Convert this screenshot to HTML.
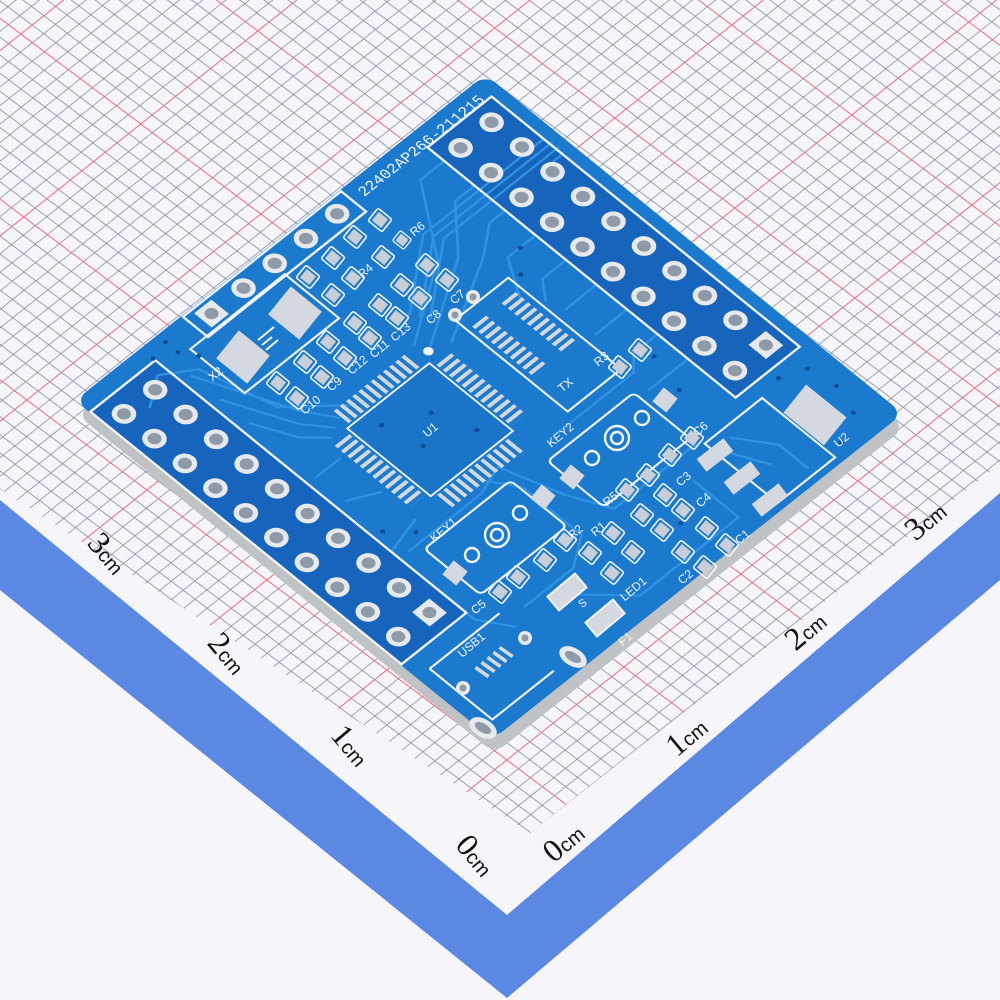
<!DOCTYPE html>
<html><head><meta charset="utf-8"><style>html,body{margin:0;padding:0;background:#f6f6fa}svg{display:block}</style></head>
<body>
<svg width="1000" height="1000" viewBox="0 0 1000 1000" xmlns="http://www.w3.org/2000/svg" font-family="Liberation Sans, sans-serif">
<defs>
<pattern id="grid" width="150" height="150" patternUnits="userSpaceOnUse" patternTransform="matrix(0.78,-0.62,0.8,0.6,494,28)">
<path d="M15 0V150M30 0V150M45 0V150M60 0V150M75 0V150M90 0V150M105 0V150M120 0V150M135 0V150M0 15H150M0 30H150M0 45H150M0 60H150M0 75H150M0 90H150M0 105H150M0 120H150M0 135H150" stroke="#80849a" stroke-width="0.8" fill="none"/>
<path d="M0 0V150M0 0H150" stroke="#f0647c" stroke-width="2" fill="none"/>
</pattern>
<pattern id="ph" width="1.5" height="10" patternUnits="userSpaceOnUse"><rect x="0" y="0" width="0.75" height="10" fill="#d4d8e0"/></pattern>
<pattern id="pv" width="10" height="1.5" patternUnits="userSpaceOnUse"><rect x="0" y="0" width="10" height="0.75" fill="#d4d8e0"/></pattern>
<g id="pin"><circle r="2.1" fill="#e6e9ee"/><circle r="1.2" fill="#8f9aa8"/></g>
<g id="sq"><rect x="-2.1" y="-2.1" width="4.2" height="4.2" fill="#e6e9ee"/><circle r="1.2" fill="#8f9aa8"/></g>
<g id="sp"><rect x="-9" y="-8" width="18" height="16" fill="none" stroke="#f2f6fb" stroke-width="1.6" rx="2"/><rect x="-6" y="-5.5" width="12" height="11" fill="#c9ced7"/></g>
</defs>

<rect width="1000" height="1000" fill="#f6f6fa"/>
<rect width="1000" height="1000" fill="url(#grid)"/>
<polygon points="0,489 530,833 1000,464 1000,1000 0,1000" fill="#f6f6fa"/>
<polygon points="0,500 507,915 1000,493 1000,580 507,998 0,590" fill="#5b88e2"/>

<g font-family="Liberation Serif, serif" fill="#111">
<text transform="translate(100,560) rotate(50)" text-anchor="middle" font-size="32">3<tspan font-size="20" font-family="Liberation Sans, sans-serif">cm</tspan></text>
<text transform="translate(220,660) rotate(50)" text-anchor="middle" font-size="32">2<tspan font-size="20" font-family="Liberation Sans, sans-serif">cm</tspan></text>
<text transform="translate(343,752) rotate(50)" text-anchor="middle" font-size="32">1<tspan font-size="20" font-family="Liberation Sans, sans-serif">cm</tspan></text>
<text transform="translate(468,862) rotate(50)" text-anchor="middle" font-size="32">0<tspan font-size="20" font-family="Liberation Sans, sans-serif">cm</tspan></text>
<text transform="translate(570,850) rotate(-40)" text-anchor="middle" font-size="32">0<tspan font-size="20" font-family="Liberation Sans, sans-serif">cm</tspan></text>
<text transform="translate(693,744) rotate(-40)" text-anchor="middle" font-size="32">1<tspan font-size="20" font-family="Liberation Sans, sans-serif">cm</tspan></text>
<text transform="translate(812,638) rotate(-40)" text-anchor="middle" font-size="32">2<tspan font-size="20" font-family="Liberation Sans, sans-serif">cm</tspan></text>
<text transform="translate(932,528) rotate(-40)" text-anchor="middle" font-size="32">3<tspan font-size="20" font-family="Liberation Sans, sans-serif">cm</tspan></text>
</g>

<g transform="translate(2,14) matrix(4.175,3.39,-4.105,3.26,485.5,74.5)">
<rect x="0" y="0" width="100" height="100" rx="2.5" fill="#bfc3c6"/>
</g>
<g transform="matrix(4.175,3.39,-4.105,3.26,485.5,74.5)">
<rect x="0" y="0" width="100" height="100" rx="2.5" fill="#1b7acd"/>
<rect x="4" y="2.6" width="73.8" height="15.6" fill="#1664bb"/>
<rect x="3.5" y="84" width="74.5" height="15.8" fill="#1664bb"/>
<rect x="36.4" y="50.7" width="20" height="20" fill="#1a74c8"/>
<g stroke="#2f92e2" stroke-width="0.45" fill="none">
<path d="M8 18 L8 24 L22 34 L32 50"/><path d="M15.3 18 L15.3 23 L24 31 L34 48"/><path d="M22.6 18 L22.6 22 L27 28 L36 45"/>
<path d="M29.9 18 L29.9 25 L38 30"/><path d="M37.2 18 L37.2 24 L41 27"/><path d="M44.5 18 L44.5 26"/><path d="M51.8 18 L51.8 26"/>
<path d="M59.1 18 L59.1 24 L62 27 L62 46"/><path d="M66.4 18 L66.4 28"/>
<path d="M21 5 L21 3 M19.5 2 L19.5 30 L30 44 M18 2 L18 31 L28.5 45 M16.5 2.5 L16.5 32 L27 46"/>
<path d="M10 82 L28 74 L34 70"/><path d="M17 82 L30 76 L35 72"/><path d="M24 82 L32 78 L36 74"/>
<path d="M10 92 L6 86 L10 80 L25 76 L34 66"/><path d="M40 82 L40 76"/><path d="M47 82 L50 76"/>
<path d="M62 82 L62 64 L60 58"/><path d="M80 30 L80 50 L72 54 L60 58"/><path d="M85 36 L96 36 L96 60 L86 70"/>
<path d="M60 62 L66 58 L80 58 L84 64 L84 76"/><path d="M58 76 L60 84 L80 84 L86 80"/>
</g>
<rect x="4" y="2.6" width="73.8" height="15.6" fill="none" stroke="#f2f6fb" stroke-width="0.45"/>
<use href="#pin" x="7.85" y="6.5"/><use href="#pin" x="15.15" y="6.5"/><use href="#pin" x="22.45" y="6.5"/><use href="#pin" x="29.75" y="6.5"/><use href="#pin" x="37.05" y="6.5"/><use href="#pin" x="44.35" y="6.5"/><use href="#pin" x="51.65" y="6.5"/><use href="#pin" x="58.95" y="6.5"/><use href="#pin" x="66.25" y="6.5"/><use href="#sq" x="73.55" y="6.5"/>
<use href="#pin" x="8" y="14.2"/><use href="#pin" x="15.3" y="14.2"/><use href="#pin" x="22.6" y="14.2"/><use href="#pin" x="29.9" y="14.2"/><use href="#pin" x="37.2" y="14.2"/><use href="#pin" x="44.5" y="14.2"/><use href="#pin" x="51.8" y="14.2"/><use href="#pin" x="59.1" y="14.2"/><use href="#pin" x="66.4" y="14.2"/><use href="#pin" x="73.7" y="14.2"/>
<rect x="3.5" y="84" width="74.5" height="15.8" fill="none" stroke="#f2f6fb" stroke-width="0.45"/>
<use href="#pin" x="7.9" y="88.5"/><use href="#pin" x="15.2" y="88.5"/><use href="#pin" x="22.5" y="88.5"/><use href="#pin" x="29.8" y="88.5"/><use href="#pin" x="37.1" y="88.5"/><use href="#pin" x="44.4" y="88.5"/><use href="#pin" x="51.7" y="88.5"/><use href="#pin" x="59" y="88.5"/><use href="#pin" x="66.3" y="88.5"/><use href="#sq" x="73.6" y="88.5"/>
<use href="#pin" x="7.8" y="96"/><use href="#pin" x="15.1" y="96"/><use href="#pin" x="22.4" y="96"/><use href="#pin" x="29.7" y="96"/><use href="#pin" x="37" y="96"/><use href="#pin" x="44.3" y="96"/><use href="#pin" x="51.6" y="96"/><use href="#pin" x="58.9" y="96"/><use href="#pin" x="66.2" y="96"/><use href="#pin" x="73.5" y="96"/>
<rect x="0.3" y="35.5" width="6" height="38.5" fill="none" stroke="#f2f6fb" stroke-width="0.45"/>
<use href="#pin" x="3.2" y="39.4"/><use href="#pin" x="3.2" y="47"/><use href="#pin" x="3.2" y="54.6"/><use href="#pin" x="3.2" y="62.2"/><use href="#sq" x="3.2" y="70"/>
<text transform="translate(3.9,33.5) rotate(-90)" font-size="2.9" fill="#f2f6fb" font-family="Liberation Mono, monospace">22402AP266-211215</text>
<rect x="36.4" y="50.7" width="20" height="20" fill="none" stroke="#f2f6fb" stroke-width="0.35"/>
<rect x="37.5" y="46.5" width="18" height="3.6" fill="url(#ph)"/>
<rect x="37.5" y="71.3" width="18" height="3.6" fill="url(#ph)"/>
<rect x="32.2" y="52" width="3.6" height="18" fill="url(#pv)"/>
<rect x="57" y="52" width="3.6" height="18" fill="url(#pv)"/>
<circle cx="34.5" cy="49" r="0.9" fill="#f2f6fb"/>
<rect x="33" y="28" width="27" height="13" fill="none" stroke="#f2f6fb" stroke-width="0.4"/>
<rect x="36" y="29.3" width="15" height="3.4" fill="url(#ph)"/>
<rect x="36" y="36.5" width="15" height="3.4" fill="url(#ph)"/>
<rect x="6" y="55" width="13" height="23" fill="none" stroke="#f2f6fb" stroke-width="0.4"/>
<rect x="63.5" y="58.5" width="13.5" height="21" fill="none" stroke="#f2f6fb" stroke-width="0.4" rx="1"/>
<rect x="65" y="30" width="13.5" height="21" fill="none" stroke="#f2f6fb" stroke-width="0.4" rx="1"/>
<rect x="81" y="15" width="17.5" height="14" fill="none" stroke="#f2f6fb" stroke-width="0.4"/>
<path d="M83 25 L90 20 L97 20 M84 28 L92 24" stroke="#2f92e2" stroke-width="0.5" fill="none"/>
<path d="M82 80 L82 97 M82 97 L97 97 L97 82" stroke="#f2f6fb" stroke-width="0.4" fill="none"/>
<g fill="#0d4f94">
<circle cx="30" cy="22" r="0.45"/><circle cx="34" cy="26" r="0.45"/><circle cx="62" cy="22" r="0.45"/><circle cx="70" cy="24" r="0.45"/><circle cx="80" cy="10" r="0.45"/><circle cx="82" cy="5" r="0.45"/><circle cx="88" cy="4" r="0.45"/><circle cx="94" cy="6" r="0.45"/><circle cx="97" cy="12" r="0.45"/>
<circle cx="2" cy="80" r="0.45"/><circle cx="5" cy="80" r="0.45"/><circle cx="3" cy="84" r="0.45"/><circle cx="8" cy="78" r="0.45"/>
<circle cx="44" cy="58" r="0.45"/><circle cx="48" cy="64" r="0.45"/><circle cx="40" cy="66" r="0.45"/><circle cx="52" cy="55" r="0.45"/><circle cx="60" cy="78" r="0.45"/><circle cx="56" cy="82" r="0.45"/><circle cx="80" cy="78" r="0.45"/><circle cx="90" cy="44" r="0.45"/>
</g>
</g>

<rect x="-20" y="-18" width="40" height="36" fill="#d4d8e0" transform="translate(295,313) rotate(39)"/>
<rect x="-20" y="-18" width="40" height="36" fill="#d4d8e0" transform="translate(243,357) rotate(39)"/>
<path d="M262 345 l10 -8 M258 340 l16 -13 M266 350 l12 -10" stroke="#f2f6fb" stroke-width="2"/>

<g>
<use href="#sp" transform="translate(380,220) rotate(39)"/><use href="#sp" transform="translate(355,237) rotate(39)"/><use href="#sp" transform="translate(402,240) rotate(39) scale(0.8)"/><use href="#sp" transform="translate(383,257) rotate(39)"/>
<use href="#sp" transform="translate(333,258) rotate(39)"/><use href="#sp" transform="translate(308,277) rotate(39)"/><use href="#sp" transform="translate(353,278) rotate(39)"/><use href="#sp" transform="translate(333,295) rotate(39)"/>
<use href="#sp" transform="translate(427,265) rotate(39)"/><use href="#sp" transform="translate(447,280) rotate(39)"/><use href="#sp" transform="translate(402,285) rotate(39)"/><use href="#sp" transform="translate(420,298) rotate(39)"/>
<use href="#sp" transform="translate(380,305) rotate(39)"/><use href="#sp" transform="translate(397,318) rotate(39)"/><use href="#sp" transform="translate(355,323) rotate(39)"/><use href="#sp" transform="translate(370,338) rotate(39)"/>
<use href="#sp" transform="translate(328,342) rotate(39)"/><use href="#sp" transform="translate(345,358) rotate(39)"/><use href="#sp" transform="translate(305,362) rotate(39)"/><use href="#sp" transform="translate(322,377) rotate(39)"/>
<use href="#sp" transform="translate(278,383) rotate(39)"/><use href="#sp" transform="translate(297,398) rotate(39)"/>
<use href="#sp" transform="translate(692,438) rotate(39)"/><use href="#sp" transform="translate(670,455) rotate(39)"/><use href="#sp" transform="translate(648,475) rotate(39)"/><use href="#sp" transform="translate(627,490) rotate(39)"/>
<use href="#sp" transform="translate(665,495) rotate(39)"/><use href="#sp" transform="translate(642,515) rotate(39)"/><use href="#sp" transform="translate(683,510) rotate(39)"/><use href="#sp" transform="translate(662,530) rotate(39)"/>
<use href="#sp" transform="translate(633,552) rotate(39)"/><use href="#sp" transform="translate(613,533) rotate(39)"/><use href="#sp" transform="translate(590,553) rotate(39)"/><use href="#sp" transform="translate(565,540) rotate(39)"/>
<use href="#sp" transform="translate(545,560) rotate(39)"/><use href="#sp" transform="translate(612,573) rotate(39)"/><use href="#sp" transform="translate(518,577) rotate(39)"/><use href="#sp" transform="translate(500,592) rotate(39)"/>
<use href="#sp" transform="translate(707,528) rotate(39)"/><use href="#sp" transform="translate(683,552) rotate(39)"/><use href="#sp" transform="translate(727,545) rotate(39)"/><use href="#sp" transform="translate(705,567) rotate(39)"/>
<use href="#sp" transform="translate(640,350) rotate(39)"/><use href="#sp" transform="translate(620,367) rotate(39)"/>
</g>
<circle cx="473" cy="297" r="7" fill="#e6e9ee"/><circle cx="473" cy="297" r="3.5" fill="#8f9aa8"/>
<circle cx="455" cy="315" r="7" fill="#e6e9ee"/><circle cx="455" cy="315" r="3.5" fill="#8f9aa8"/>
<rect x="-9" y="-9" width="18" height="18" fill="#d4d8e0" transform="translate(543,497) rotate(39)"/>
<rect x="-9" y="-9" width="18" height="18" fill="#d4d8e0" transform="translate(455,573) rotate(39)"/>
<rect x="-9" y="-9" width="18" height="18" fill="#d4d8e0" transform="translate(665,400) rotate(39)"/>
<rect x="-9" y="-9" width="18" height="18" fill="#d4d8e0" transform="translate(572,477) rotate(39)"/>
<g fill="#d4d8e0">
<rect x="-17" y="-8" width="34" height="16" transform="translate(715,455) rotate(-38)"/>
<rect x="-17" y="-8" width="34" height="16" transform="translate(742,478) rotate(-38)"/>
<rect x="-17" y="-8" width="34" height="16" transform="translate(770,500) rotate(-38)"/>
<rect x="-26" y="-18" width="52" height="36" transform="translate(815,415) rotate(39)"/>
<rect x="-18" y="-9" width="36" height="18" transform="translate(567,592) rotate(-40)" stroke="#f2f6fb" stroke-width="2"/>
<rect x="-18" y="-9" width="36" height="18" transform="translate(605,618) rotate(-40)" stroke="#f2f6fb" stroke-width="2"/>
</g>
<g fill="none" stroke="#f2f6fb" stroke-width="2.4">
<circle cx="472" cy="555" r="7"/><circle cx="497" cy="535" r="12"/><circle cx="497" cy="535" r="6"/><circle cx="520" cy="513" r="7"/>
<circle cx="592" cy="458" r="7"/><circle cx="617" cy="438" r="12"/><circle cx="617" cy="438" r="6"/><circle cx="642" cy="418" r="7"/>
</g>
<g fill="#d4d8e0">
<rect x="-1.8" y="-8" width="3.6" height="16" transform="translate(482,672) rotate(-55)"/>
<rect x="-1.8" y="-8" width="3.6" height="16" transform="translate(488,667) rotate(-55)"/>
<rect x="-1.8" y="-8" width="3.6" height="16" transform="translate(494,662) rotate(-55)"/>
<rect x="-1.8" y="-8" width="3.6" height="16" transform="translate(500,657) rotate(-55)"/>
<rect x="-1.8" y="-8" width="3.6" height="16" transform="translate(506,652) rotate(-55)"/>
</g>
<circle cx="525" cy="638" r="7" fill="#e6e9ee"/><circle cx="525" cy="638" r="3.5" fill="#8f9aa8"/>
<circle cx="463" cy="688" r="7" fill="#e6e9ee"/><circle cx="463" cy="688" r="3.5" fill="#8f9aa8"/>
<ellipse cx="573" cy="657" rx="15" ry="9" transform="rotate(30 573 657)" fill="#e6e9ee"/><ellipse cx="573" cy="657" rx="9" ry="4.5" transform="rotate(30 573 657)" fill="#8f9aa8"/>
<ellipse cx="483" cy="728" rx="15" ry="9" transform="rotate(30 483 728)" fill="#e6e9ee"/><ellipse cx="483" cy="728" rx="9" ry="4.5" transform="rotate(30 483 728)" fill="#8f9aa8"/>

<g fill="#f2f6fb" font-size="12" text-anchor="middle">
<text transform="translate(420,232) rotate(-40)">R6</text>
<text transform="translate(368,274) rotate(-40)">R4</text>
<text transform="translate(460,300) rotate(-40)">C7</text>
<text transform="translate(436,320) rotate(-40)">C8</text>
<text transform="translate(403,335) rotate(-40)">C13</text>
<text transform="translate(382,352) rotate(-40)">C11</text>
<text transform="translate(360,368) rotate(-40)">C12</text>
<text transform="translate(337,387) rotate(-40)">C9</text>
<text transform="translate(313,408) rotate(-40)">C10</text>
<text transform="translate(218,377) rotate(-40)">X2</text>
<text transform="translate(433,433) rotate(-40)">U1</text>
<text transform="translate(568,388) rotate(-40)">TX</text>
<text transform="translate(563,438) rotate(-40)">KEY2</text>
<text transform="translate(446,533) rotate(-40)">KEY1</text>
<text transform="translate(481,610) rotate(-40)">C5</text>
<text transform="translate(474,648) rotate(-40)">USB1</text>
<text transform="translate(636,592) rotate(-40)">LED1</text>
<text transform="translate(628,642) rotate(-40)">F1</text>
<text transform="translate(688,580) rotate(-40)">C2</text>
<text transform="translate(745,540) rotate(-40)">C1</text>
<text transform="translate(686,482) rotate(-40)">C3</text>
<text transform="translate(706,503) rotate(-40)">C4</text>
<text transform="translate(601,532) rotate(-40)">R1</text>
<text transform="translate(578,535) rotate(-40)">R2</text>
<text transform="translate(613,502) rotate(-40)">R5</text>
<text transform="translate(703,432) rotate(-40)">C6</text>
<text transform="translate(604,362) rotate(-40)">R3</text>
<text transform="translate(844,443) rotate(-40)">U2</text>
<text transform="translate(585,606) rotate(-40)" font-size="11">S</text>
</g>
</svg>
</body></html>
